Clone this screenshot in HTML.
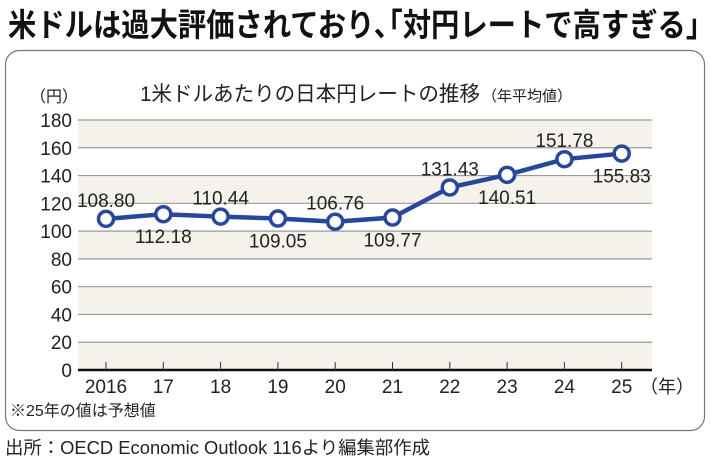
<!DOCTYPE html>
<html><head><meta charset="utf-8"><style>
html,body{margin:0;padding:0;background:#fff}
svg{display:block;font-family:"Liberation Sans","Noto Sans CJK JP",sans-serif}
</style></head><body>
<svg id="chart" width="710" height="466" viewBox="0 0 710 466" xmlns="http://www.w3.org/2000/svg">
<text x="8" y="36" font-size="32" font-weight="bold" fill="#111" textLength="692" lengthAdjust="spacingAndGlyphs">米ドルは過大評価されており､｢対円レートで高すぎる｣</text>
<rect x="5.5" y="50.5" width="699" height="380" rx="14" fill="#fff" stroke="#777" stroke-width="1.2"/>
<text x="140" y="101" font-size="21" fill="#222" textLength="340" lengthAdjust="spacingAndGlyphs">1米ドルあたりの日本円レートの推移</text>
<text x="482" y="101" font-size="15" fill="#222">（年平均値）</text>
<text x="30" y="102" font-size="16" fill="#222">（円）</text>
<g id="grid"></g>
<g id="axis"></g>
<g id="series"></g>
<text x="640" y="393" font-size="18" fill="#222">（年）</text>
<text x="10" y="416" font-size="16" fill="#222">※25年の値は予想値</text>
<text x="5" y="454" font-size="18" fill="#222" textLength="425" lengthAdjust="spacingAndGlyphs">出所：OECD Economic Outlook 116より編集部作成</text>
</svg>
<script>
const categories = ["2016","17","18","19","20","21","22","23","24","25"];
const values = [108.80,112.18,110.44,109.05,106.76,109.77,131.43,140.51,151.78,155.83];
const valueLabels = ["108.80","112.18","110.44","109.05","106.76","109.77","131.43","140.51","151.78","155.83"];
const labelAbove = [true,false,true,false,true,false,true,false,true,false];
const yTicks = [0,20,40,60,80,100,120,140,160,180];

const NS="http://www.w3.org/2000/svg";
const X0=78,X1=652,Y0=370,Y1=120,YMAX=180;
const step=57.3, first=106;
const xs=i=>first+i*step;
const ys=v=>Y0-(v/YMAX)*(Y0-Y1);
function mk(tag,attrs,parent){const e=document.createElementNS(NS,tag);for(const k in attrs)e.setAttribute(k,attrs[k]);parent.appendChild(e);return e;}
const grid=document.getElementById('grid'),axis=document.getElementById('axis'),series=document.getElementById('series');
for(let j=0;j<yTicks.length-1;j++){
  const a=yTicks[j],b=yTicks[j+1];
  const r=mk('rect',{x:X0,y:ys(b),width:X1-X0,height:ys(a)-ys(b),fill:(j%2===0)?'#f4f2ea':'#fff'},grid);
  
  
}
yTicks.forEach(t=>{
  if(t>0){const l=mk('line',{x1:X0,x2:X1,y1:ys(t),y2:ys(t),stroke:'#999','stroke-width':1.2},grid);
  
  }
  const tx=mk('text',{x:72,y:ys(t)+7,'font-size':19,'text-anchor':'end',fill:'#222'},axis);
  tx.textContent=t;
  
  
});
const base=mk('line',{x1:X0,x2:X1,y1:Y0,y2:Y0,stroke:'#111','stroke-width':2.5},axis);


categories.forEach((c,i)=>{
  const tk=mk('line',{x1:xs(i),x2:xs(i),y1:Y0-8,y2:Y0,stroke:'#333','stroke-width':1},axis);
  
  
  const t=mk('text',{x:xs(i),y:393,'font-size':19,'text-anchor':'middle',fill:'#222'},axis);
  t.textContent=c;
  
  
});
const line=mk('polyline',{points:values.map((v,i)=>xs(i)+','+ys(v)).join(' '),fill:'none',stroke:'#27479a','stroke-width':4.5,'stroke-linejoin':'round'},series);


values.forEach((v,i)=>{
  const c=mk('circle',{cx:xs(i),cy:ys(v),r:7.5,fill:'#fff',stroke:'#27479a','stroke-width':3.5},series);
  
  
  const t=mk('text',{x:xs(i),y:labelAbove[i]?ys(v)-12:ys(v)+29,'font-size':19,'text-anchor':'middle',fill:'#222'},series);
  t.textContent=valueLabels[i];
  
  
});
</script>
</body></html>
